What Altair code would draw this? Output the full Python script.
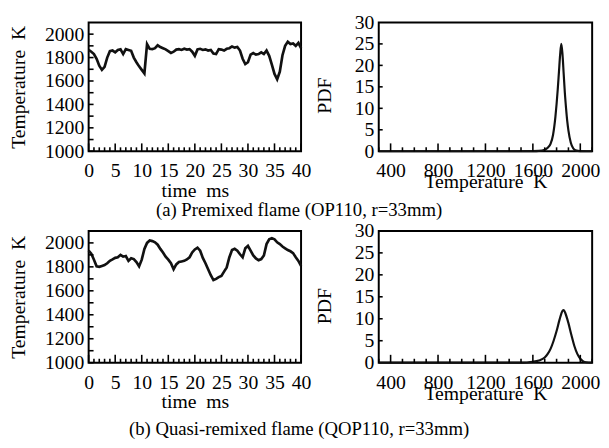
import altair as alt
import pandas as pd

FONT = "Liberation Serif"

# ---------------- data ----------------
time_ms = [i * 0.5 for i in range(81)]

temp_premixed = [
    1865, 1850, 1830, 1790, 1730, 1695, 1720, 1800, 1855, 1860,
    1845, 1865, 1870, 1830, 1872, 1865, 1858, 1800, 1760, 1725,
    1695, 1665, 1915, 1875, 1872, 1880, 1905, 1890, 1880, 1870,
    1855, 1840, 1850, 1868, 1872, 1865, 1875, 1868, 1872, 1850,
    1815, 1870, 1875, 1865, 1870, 1860, 1865, 1835, 1830, 1872,
    1868, 1860, 1875, 1880, 1895, 1885, 1890, 1860, 1790, 1745,
    1760, 1825, 1838, 1825, 1830, 1845, 1830, 1860, 1815, 1740,
    1660, 1615, 1680, 1820, 1900, 1935, 1915, 1920, 1900, 1925,
    1880,
]

temp_quasi = [
    1935, 1910, 1860, 1805, 1800, 1808, 1815, 1830, 1850, 1862,
    1875, 1880, 1900, 1885, 1890, 1850, 1872, 1865, 1840, 1805,
    1860, 1950, 2000, 2020, 2015, 2005, 1985, 1950, 1920, 1885,
    1860, 1830, 1780, 1820, 1840, 1845, 1850, 1862, 1880, 1920,
    1945, 1960, 1935, 1875, 1830, 1780, 1730, 1690, 1700, 1715,
    1725, 1760, 1795, 1880, 1940, 1950, 1935, 1905, 1880, 1955,
    1975, 1935, 1895, 1870, 1855, 1865, 1895, 1990, 2030, 2040,
    2030, 2005, 1990, 1970, 1955, 1940, 1930, 1915, 1880, 1850,
    1808,
]

pdf_T_a = [300, 400, 600, 800, 1000, 1200, 1400, 1600, 1650, 1700, 1725, 1750,
           1770, 1790, 1800, 1810, 1820, 1830, 1840, 1850, 1860, 1870, 1880,
           1890, 1900, 1920, 1940, 1960, 2000, 2100]
pdf_a = [0, 0, 0, 0, 0, 0, 0, 0.05, 0.1, 0.35, 0.8, 1.8,
         3.8, 8, 11, 14.5, 18.5, 22.5, 25, 22.5, 18, 13.5, 10,
         7, 4.8, 2, 0.7, 0.2, 0.02, 0]

pdf_T_b = [300, 400, 600, 800, 1000, 1200, 1400, 1500, 1550, 1600, 1650, 1700,
           1725, 1750, 1775, 1800, 1825, 1850, 1860, 1875, 1900, 1925, 1950,
           1975, 2000, 2025, 2050, 2100]
pdf_b = [0, 0, 0, 0, 0, 0, 0, 0, 0.05, 0.2, 0.5, 1.2,
         2.0, 3.2, 5.0, 7.2, 9.8, 11.8, 12.0, 11.2, 9.0, 6.3, 3.8,
         2.0, 0.9, 0.3, 0.1, 0]

time_labels = [0, 5, 10, 15, 20, 25, 30, 35, 40]
temp_labels = [1000, 1200, 1400, 1600, 1800, 2000]
pdfT_labels = [400, 800, 1200, 1600, 2000]
pdf_labels = [0, 5, 10, 15, 20, 25, 30]

time_minor = [float(i) for i in range(41) if i % 5 != 0]
time_major = [float(i) for i in range(0, 41, 5)]
temp_ticks = [1000 + 100 * i for i in range(11)]
pdfT_minor = [300 + 100 * i for i in range(19) if (300 + 100 * i) % 400 != 0]
pdfT_major = [400, 800, 1200, 1600, 2000]
pdf_ticks = [5, 10, 15, 20, 25]

caption_a = "(a) Premixed flame (OP110, r=33mm)"
caption_b = "(b) Quasi-remixed flame (QOP110, r=33mm)"

WL = 216
WR = 217
H_TOP = 131
H_BOT = 134

axis_common = dict(ticks=False, domain=False, grid=False, labelOverlap=False,
                   labelFlush=False, labelFont=FONT, labelFontSize=20,
                   labelColor="black", titleFont=FONT, titleFontSize=20,
                   titleFontWeight="normal", titleColor="black", format="d")


def ticks_layer(vals, channel, scale, axis, length, h):
    df = pd.DataFrame({"v": vals})
    base = alt.Chart(df).mark_rule(color="black", strokeWidth=1.6)
    if channel == "x":
        return base.encode(x=alt.X("v:Q", scale=scale, axis=axis),
                           y=alt.value(h), y2=alt.value(h - length))
    return base.encode(y=alt.Y("v:Q", scale=scale, axis=axis),
                       x=alt.value(0), x2=alt.value(length))


def ts_panel(t, T, caption, h, cap_dy):
    xs = alt.Scale(domain=[0, 40], nice=False, zero=False)
    ys = alt.Scale(domain=[1000, 2100], nice=False, zero=False)
    xa = alt.Axis(values=time_labels, title="time\u00a0 ms",
                  labelPadding=10, titlePadding=0, **axis_common)
    ya = alt.Axis(values=temp_labels, title="Temperature\u00a0 K",
                  labelPadding=5, titlePadding=16, **axis_common)
    df = pd.DataFrame({"t": t, "T": T})
    line = alt.Chart(df).mark_line(color="#111", strokeWidth=2.7).encode(
        x=alt.X("t:Q", scale=xs, axis=xa),
        y=alt.Y("T:Q", scale=ys, axis=ya),
    )
    cap = alt.Chart(pd.DataFrame({"c": [caption]})).mark_text(
        font=FONT, fontSize=19, color="black", align="center", baseline="middle"
    ).encode(text="c:N", x=alt.value(214), y=alt.value(h + cap_dy))
    return alt.layer(
        line,
        ticks_layer(time_minor, "x", xs, xa, 4, h),
        ticks_layer(time_major, "x", xs, xa, 8, h),
        ticks_layer(temp_ticks, "y", ys, ya, 5, h),
        cap,
    ).properties(width=WL, height=h)


def pdf_panel(T, p, h):
    xs = alt.Scale(domain=[300, 2100], nice=False, zero=False)
    ys = alt.Scale(domain=[0, 30], nice=False, zero=False)
    xa = alt.Axis(values=pdfT_labels, title="Temperature\u00a0 K",
                  labelPadding=10, titlePadding=-9, **axis_common)
    ya = alt.Axis(values=pdf_labels, title="PDF",
                  labelPadding=5, titlePadding=20, titleY=int(h * 0.57),
                  **axis_common)
    df = pd.DataFrame({"T": T, "p": p})
    line = alt.Chart(df).mark_line(color="#111", strokeWidth=2.2,
                                   interpolate="monotone").encode(
        x=alt.X("T:Q", scale=xs, axis=xa),
        y=alt.Y("p:Q", scale=ys, axis=ya),
    )
    return alt.layer(
        line,
        ticks_layer(pdfT_minor, "x", xs, xa, 4, h),
        ticks_layer(pdfT_major, "x", xs, xa, 8, h),
        ticks_layer(pdf_ticks, "y", ys, ya, 4, h),
    ).properties(width=WR, height=h)


p1 = ts_panel(time_ms, temp_premixed, caption_a, H_TOP, 60)
p2 = pdf_panel(pdf_T_a, pdf_a, H_TOP)
p3 = ts_panel(time_ms, temp_quasi, caption_b, H_BOT, 68)
p4 = pdf_panel(pdf_T_b, pdf_b, H_BOT)

chart = alt.concat(p1, p2, p3, p4, columns=2, bounds="flush",
                   spacing={"row": 81, "column": 79}).properties(
    padding=0, background="white"
).configure_view(stroke="black", strokeWidth=2, fill="white")

chart.save("out.html", embed_options={"renderer": "svg", "actions": False})
